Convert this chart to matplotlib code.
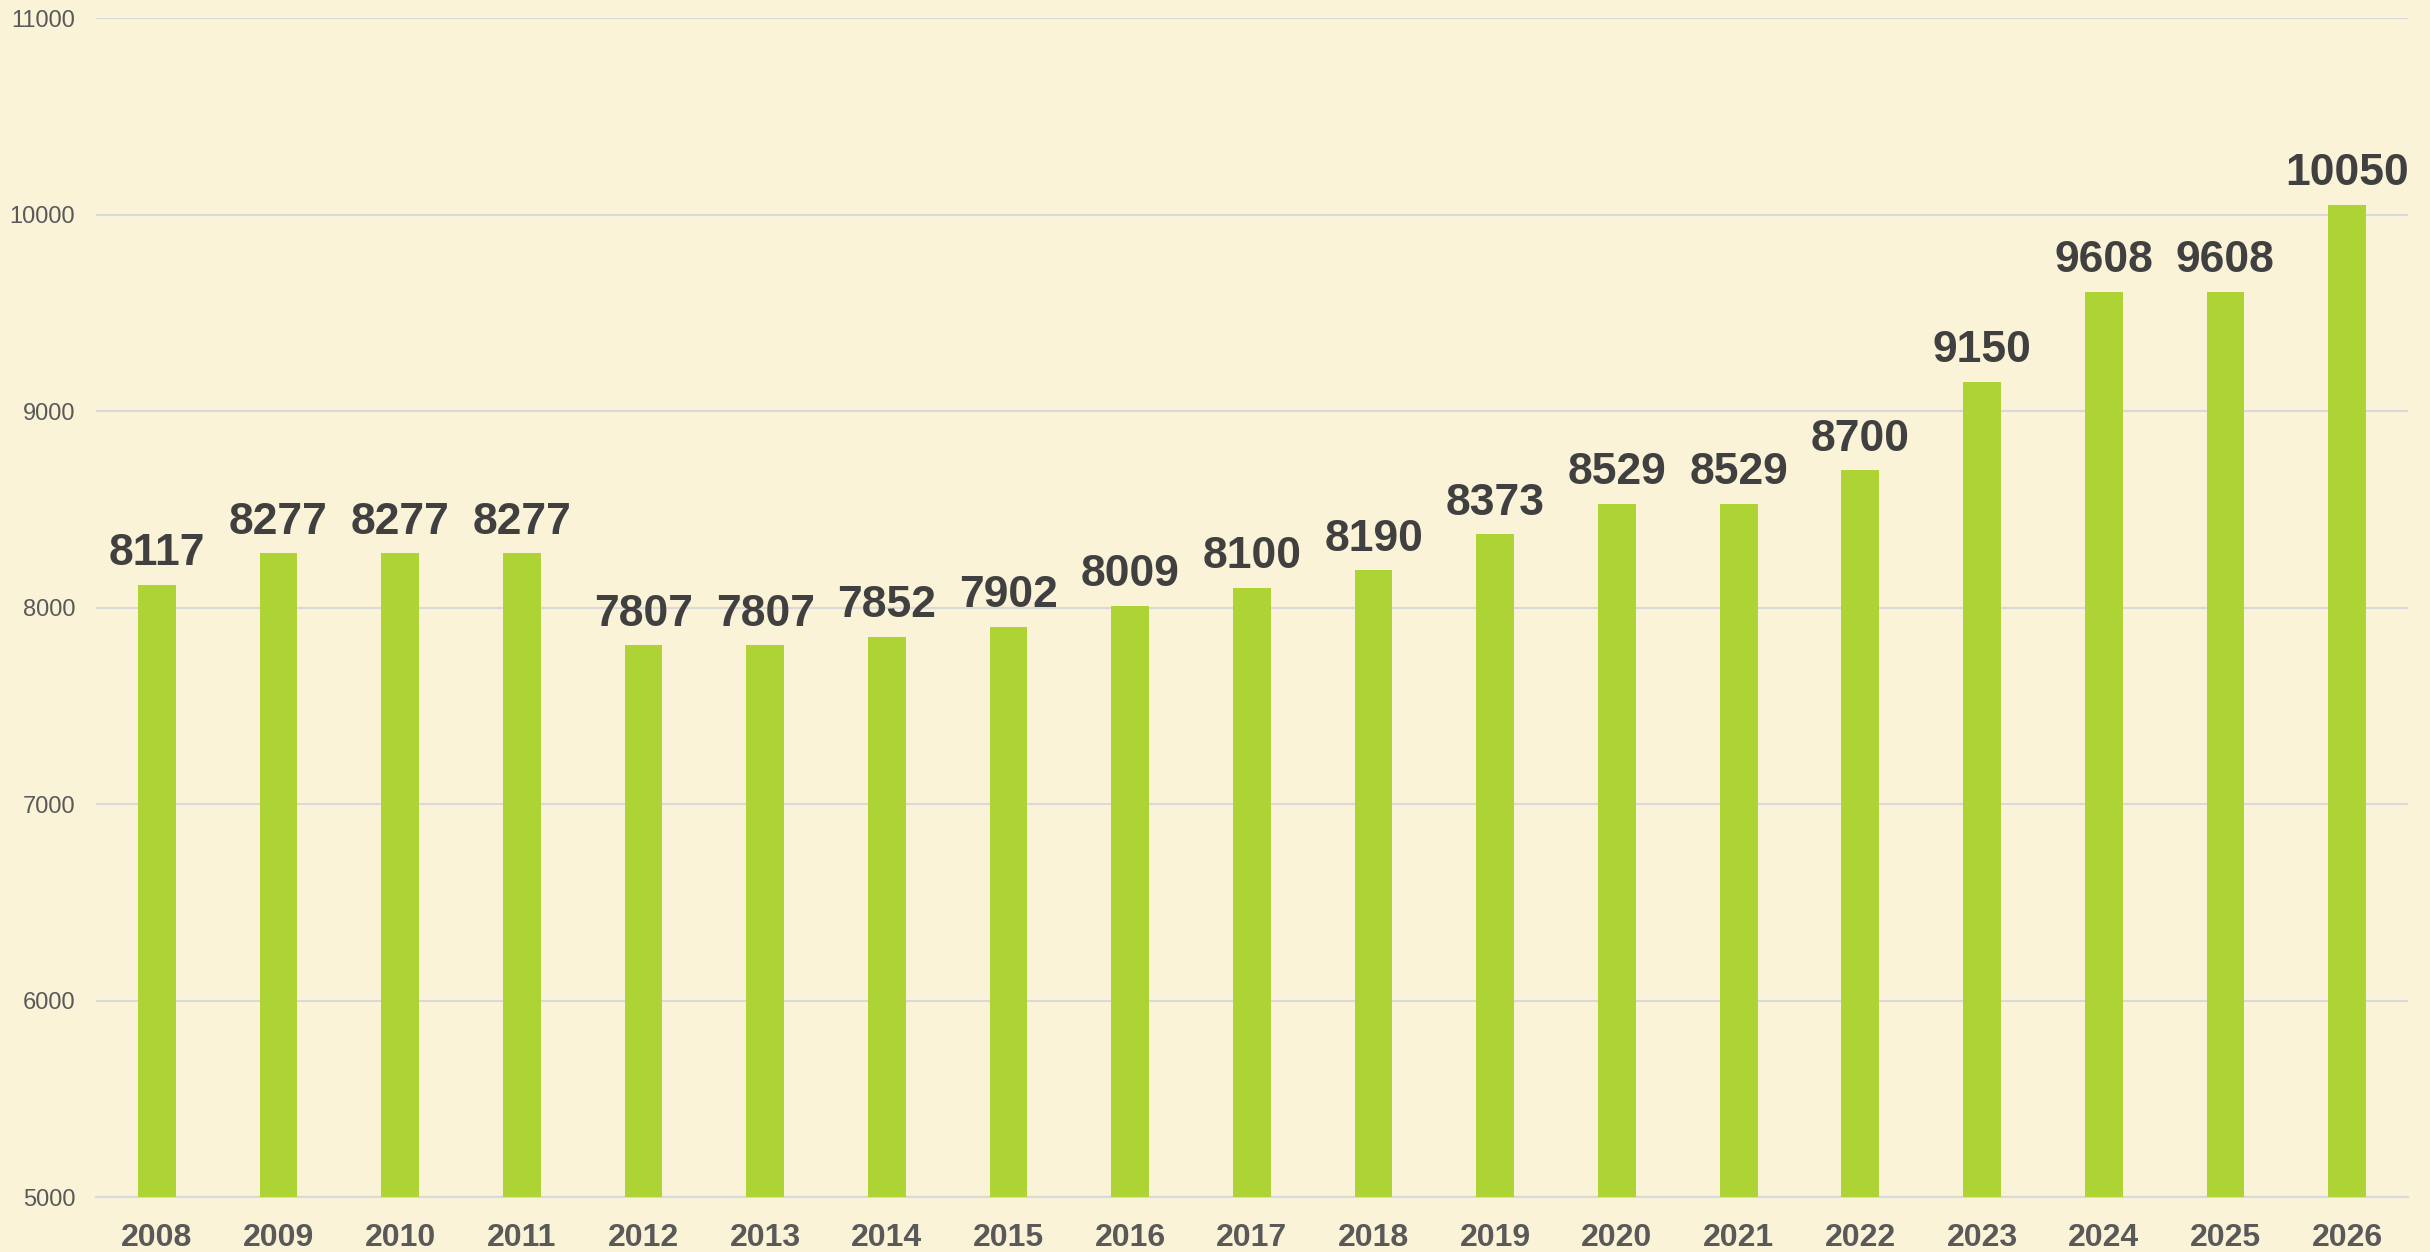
import matplotlib.pyplot as plt

years = ["2008", "2009", "2010", "2011", "2012", "2013", "2014", "2015", "2016", "2017",
         "2018", "2019", "2020", "2021", "2022", "2023", "2024", "2025", "2026"]
values = [8117, 8277, 8277, 8277, 7807, 7807, 7852, 7902, 8009, 8100,
          8190, 8373, 8529, 8529, 8700, 9150, 9608, 9608, 10050]
y_ticks = [5000, 6000, 7000, 8000, 9000, 10000, 11000]

bg = "#FAF3D8"
plt.rcParams['font.family'] = ['Liberation Sans', 'DejaVu Sans']

fig = plt.figure(figsize=(24.3, 12.52), dpi=100, facecolor=bg)
ax = fig.add_axes([0.0395, 0.0439, 0.9514, 0.9417])
ax.set_facecolor(bg)

x = range(len(years))
bars = ax.bar(x, values, width=0.31, color="#ADD434", zorder=3)

for i, v in enumerate(values):
    ax.annotate(str(v), (i, v), xytext=(0, 14), textcoords="offset points",
                ha="center", va="baseline", fontsize=32, fontweight="bold", color="#404040")

ax.set_xlim(-0.5, len(years) - 0.5)
ax.set_ylim(5000, 11000)
ax.set_yticks(y_ticks)
ax.set_xticks(list(x))
ax.set_xticklabels(years, fontsize=23, fontweight="bold", color="#595959")
ax.tick_params(axis="y", labelsize=17, labelcolor="#595959", length=0, pad=15)
ax.tick_params(axis="x", length=0, pad=19)

ax.grid(axis="y", color="#D9D9D9", linewidth=1.5, zorder=0)
for s in ["top", "right", "left"]:
    ax.spines[s].set_visible(False)
ax.spines["bottom"].set_color("#D9D9D9")
ax.spines["bottom"].set_linewidth(1.5)

fig.savefig("out.png", dpi=100, facecolor=bg)
